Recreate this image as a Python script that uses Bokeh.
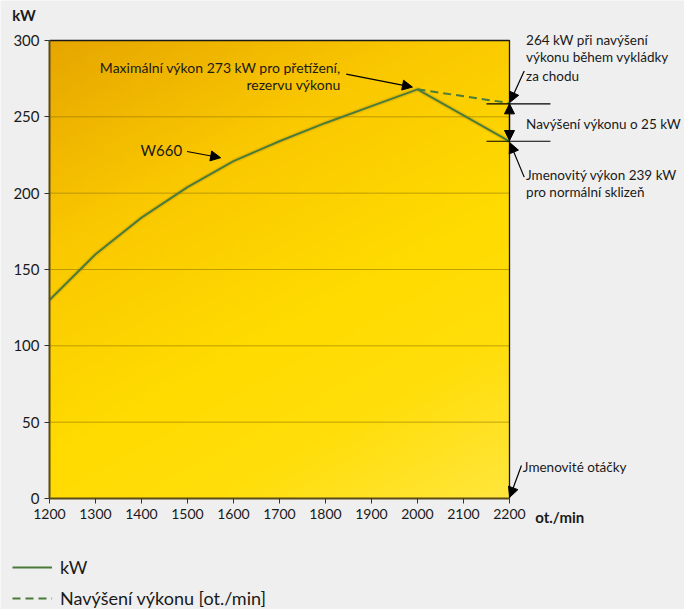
import numpy as np
from bokeh.plotting import figure
from bokeh.models import (FixedTicker, Label, Arrow, NormalHead, Legend, LegendItem, Range1d)
from bokeh.embed import file_html
from bokeh.resources import INLINE

# ---- data ----
rpm = [1200, 1300, 1400, 1500, 1600, 1700, 1800, 1900, 2000, 2200]
kw = [130, 160, 184, 204, 221, 234, 246, 257, 268, 234]
boost_rpm = [2000, 2200]
boost_kw = [268, 259]
x_ticks = [1200, 1300, 1400, 1500, 1600, 1700, 1800, 1900, 2000, 2100, 2200]
y_ticks = [0, 50, 100, 150, 200, 250, 300]
X_MIN, X_MAX, Y_MIN, Y_MAX = 1200, 2200, 0, 300

FONT = "Lato"
TXT = "#1a1a1a"
GREEN = "#4a7b3a"

W, H = 684, 609
# plot area in pixels: x 49..509, y 40..498 (from top)
sx = 460 / (X_MAX - X_MIN)
sy = 458 / (Y_MAX - Y_MIN)
x_range = Range1d(X_MIN - 49 / sx, X_MAX + (W - 509) / sx)
y_range = Range1d(Y_MIN - (H - 498) / sy, Y_MAX + 40 / sy)

p = figure(width=W, height=H, output_backend="svg", toolbar_location=None,
           x_range=x_range, y_range=y_range, title=None, min_border=0)
p.background_fill_color = "#efefef"
p.border_fill_color = "#efefef"
p.outline_line_color = None
p.xgrid.visible = False
p.ygrid.visible = False

# gradient background of the plot area (styling only)
N = 120
u = np.linspace(0, 1, N)[None, :]
vb = np.linspace(0, 1, N)[:, None]
t = 1 - vb
s = 0.55 * u + t
stops = [0, 0.45, 0.9, 1.2, 1.55]
cols = np.array([(230, 166, 0), (250, 200, 0), (255, 219, 0), (255, 222, 10), (255, 230, 60)], dtype=float)
img = np.empty((N, N), dtype=np.uint32)
view = img.view(dtype=np.uint8).reshape((N, N, 4))
for c in range(3):
    view[:, :, c] = np.interp(s, stops, cols[:, c]).astype(np.uint8)
view[:, :, 3] = 255
p.image_rgba(image=[img], x=X_MIN, y=Y_MIN, dw=X_MAX - X_MIN, dh=Y_MAX - Y_MIN, level="image")

# grid lines (inner ticks only)
inner = y_ticks[1:-1]
p.segment(x0=[X_MIN] * len(inner), y0=inner, x1=[X_MAX] * len(inner), y1=inner,
          line_color="#8a7000", line_alpha=0.55, line_width=1)
# top / right border
p.line([X_MIN, X_MAX, X_MAX], [Y_MAX, Y_MAX, Y_MIN], line_color="#1a1a1a", line_width=1.3)

# axes fixed at the plot-area edges
for ax in (p.xaxis[0], p.yaxis[0]):
    ax.axis_line_color = "#5b4b16"
    ax.axis_line_width = 2
    ax.major_tick_out = 5
    ax.major_tick_in = 0
    ax.minor_tick_line_color = None
    ax.major_tick_line_color = "#333333"
    ax.major_label_text_color = TXT
    ax.major_label_standoff = 5
    ax.major_label_text_font = FONT
    ax.major_label_text_font_size = "15px"
p.xaxis.fixed_location = Y_MIN
p.yaxis.fixed_location = X_MIN
p.xaxis.bounds = (X_MIN, X_MAX)
p.yaxis.bounds = (Y_MIN, Y_MAX)
p.xaxis.ticker = FixedTicker(ticks=x_ticks)
p.yaxis.ticker = FixedTicker(ticks=y_ticks)
p.xaxis.major_label_text_font_size = "14px"

# lines
p.line(rpm, kw, line_color="#6b5000", line_width=5, line_alpha=0.12)
r1 = p.line(rpm, kw, line_color=GREEN, line_width=2)
r2 = p.line(boost_rpm, boost_kw, line_color=GREEN, line_width=2, line_dash="8 5")


def lab(x, y, text, align="left", size="14px", bold=False):
    p.add_layout(Label(x=x, y=y, text=text, text_align=align, text_baseline="middle",
                       text_font=FONT, text_font_size=size, text_color=TXT,
                       text_font_style="bold" if bold else "normal"))


def arrow(x0, y0, x1, y1, head=True, start=False):
    p.add_layout(Arrow(x_start=x0, y_start=y0, x_end=x1, y_end=y1,
                       end=NormalHead(size=10, fill_color="black", line_color="black") if head else None,
                       start=NormalHead(size=10, fill_color="black", line_color="black") if start else None,
                       line_color="black", line_width=1.2))


# axis titles
lab(1119, 316.5, "kW", size="15px", bold=True)
lab(2256, -12, "ot./min", size="15px", bold=True)

# inner annotations
lab(1833, 282, "Maximální výkon 273 kW pro přetížení,", align="right")
lab(1833, 271, "rezervu výkonu", align="right")
arrow(1845, 278, 1989, 269.5)
lab(1398, 228, "W660", size="15px")
arrow(1499, 227.3, 1572, 223.2)

# right-hand annotations
RS = "13.5px"
lab(2236, 300.5, "264 kW při navýšení", size=RS)
lab(2236, 289, "výkonu během vykládky", size=RS)
lab(2236, 277, "za chodu", size=RS)
arrow(2232, 280, 2201, 259.5)
arrow(2150, 258.5, 2289, 258.5, head=False)
arrow(2150, 234, 2289, 234, head=False)
arrow(2200, 234.5, 2200, 258.5, head=True, start=True)
lab(2236, 245, "Navýšení výkonu o 25 kW", size=RS)
lab(2236, 212, "Jmenovitý výkon 239 kW", size=RS)
lab(2236, 200.5, "pro normální sklizeň", size=RS)
arrow(2232, 210.5, 2201, 233)
lab(2229, 20.5, "Jmenovité otáčky", size="13.5px")
arrow(2226, 21.6, 2200.5, 0.8)

legend = Legend(items=[LegendItem(label="kW", renderers=[r1]),
                       LegendItem(label="Navýšení výkonu [ot./min]", renderers=[r2])],
                location=(12, 0), orientation="vertical", padding=0, margin=0,
                spacing=9, glyph_width=40, glyph_height=20, label_height=20,
                label_standoff=8, label_text_font=FONT, label_text_font_size="18px",
                label_text_color=TXT, background_fill_alpha=0, border_line_alpha=0)
p.add_layout(legend, "center")

open("out.html", "w").write(file_html(p, INLINE))
